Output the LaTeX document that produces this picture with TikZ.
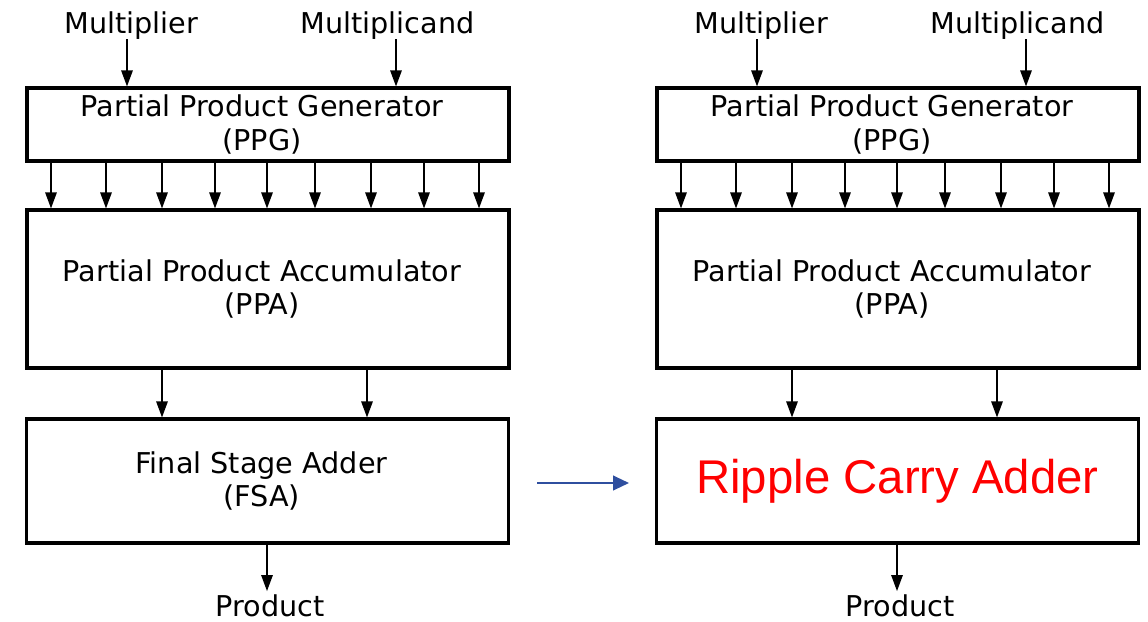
\documentclass[tikz,border=0pt]{standalone}
\usepackage{fontspec}
\setmainfont{DejaVu Sans}
\newfontfamily\rcafont{Liberation Sans}
\usetikzlibrary{arrows.meta}
\definecolor{arrowblue}{RGB}{47,79,159}
\begin{document}
\begin{tikzpicture}[x=0.75pt,y=-0.75pt,
  blk/.style={draw, line width=2.3pt, rectangle, inner sep=0pt, align=center,
              font=\fontsize{21.5}{25}\selectfont},
  ppgbox/.style={blk, minimum width=361.5pt, minimum height=54.75pt},
  ppabox/.style={blk, minimum width=361.5pt, minimum height=118.5pt},
  fsabox/.style={blk, minimum width=362pt, minimum height=93pt},
  intext/.style={label={[inner sep=0pt, align=center, xshift=-4.5pt,
                 font=\fontsize{21.5}{25}\selectfont]center:#1}},
  lbl/.style={inner sep=0pt, font=\fontsize{21.5}{25}\selectfont},
  arr/.style={-{Triangle[length=12pt,width=8.5pt]}, line width=1.3pt},
  barr/.style={-{Triangle[length=12pt,width=11pt]}, line width=1.6pt, draw=arrowblue, fill=arrowblue}
]
\useasboundingbox (0,0) rectangle (1148,621);

% ---------------- left diagram ----------------
\node[lbl, anchor=base] (mlrL) at (131.5,33) {Multiplier};
\node[lbl, anchor=base] (mcdL) at (387.5,33) {Multiplicand};
\node[ppgbox, intext={Partial Product Generator\\(PPG)}] (PPGL) at (268,124.5) {};
\node[ppabox, intext={Partial Product Accumulator\\(PPA)}] (PPAL) at (268,289) {};
\node[fsabox, intext={Final Stage Adder\\(FSA)}] (FSAL) at (267.5,481) {};
\node[lbl, anchor=base] (prodL) at (270,616.5) {Product};

\draw[arr] (mlrL.south -| 127,0) -- (127,0 |- PPGL.north);
\draw[arr] (mcdL.south -| 396,0) -- (396,0 |- PPGL.north);
\foreach \x in {51,106,162,215,267,315,371,424,479}
  \draw[arr] (\x,0 |- PPGL.south) -- (\x,0 |- PPAL.north);
\foreach \x in {162,367}
  \draw[arr] (\x,0 |- PPAL.south) -- (\x,0 |- FSAL.north);
\draw[arr] (FSAL.south -| 267,0) -- ([yshift=2.5pt]prodL.north -| 267,0);

% ---------------- blue arrow ----------------
\coordinate (bs) at (537,483);
\coordinate (be) at (629,483);
\draw[barr] (bs) -- (be);

% ---------------- right diagram ----------------
\node[lbl, anchor=base] (mlrR) at (761.5,33) {Multiplier};
\node[lbl, anchor=base] (mcdR) at (1017.5,33) {Multiplicand};
\node[ppgbox, intext={Partial Product Generator\\(PPG)}] (PPGR) at (898,124.5) {};
\node[ppabox, intext={Partial Product Accumulator\\(PPA)}] (PPAR) at (898,289) {};
\node[fsabox, font=\rcafont\fontsize{35.5}{40}\selectfont, text=red] (RCA) at (897.5,481) {Ripple Carry Adder};
\node[lbl, anchor=base] (prodR) at (900,616.5) {Product};

\draw[arr] (mlrR.south -| 757,0) -- (757,0 |- PPGR.north);
\draw[arr] (mcdR.south -| 1026,0) -- (1026,0 |- PPGR.north);
\foreach \x in {681,736,792,845,897,945,1001,1054,1109}
  \draw[arr] (\x,0 |- PPGR.south) -- (\x,0 |- PPAR.north);
\foreach \x in {792,997}
  \draw[arr] (\x,0 |- PPAR.south) -- (\x,0 |- RCA.north);
\draw[arr] (RCA.south -| 897,0) -- ([yshift=2.5pt]prodR.north -| 897,0);
\end{tikzpicture}
\end{document}
